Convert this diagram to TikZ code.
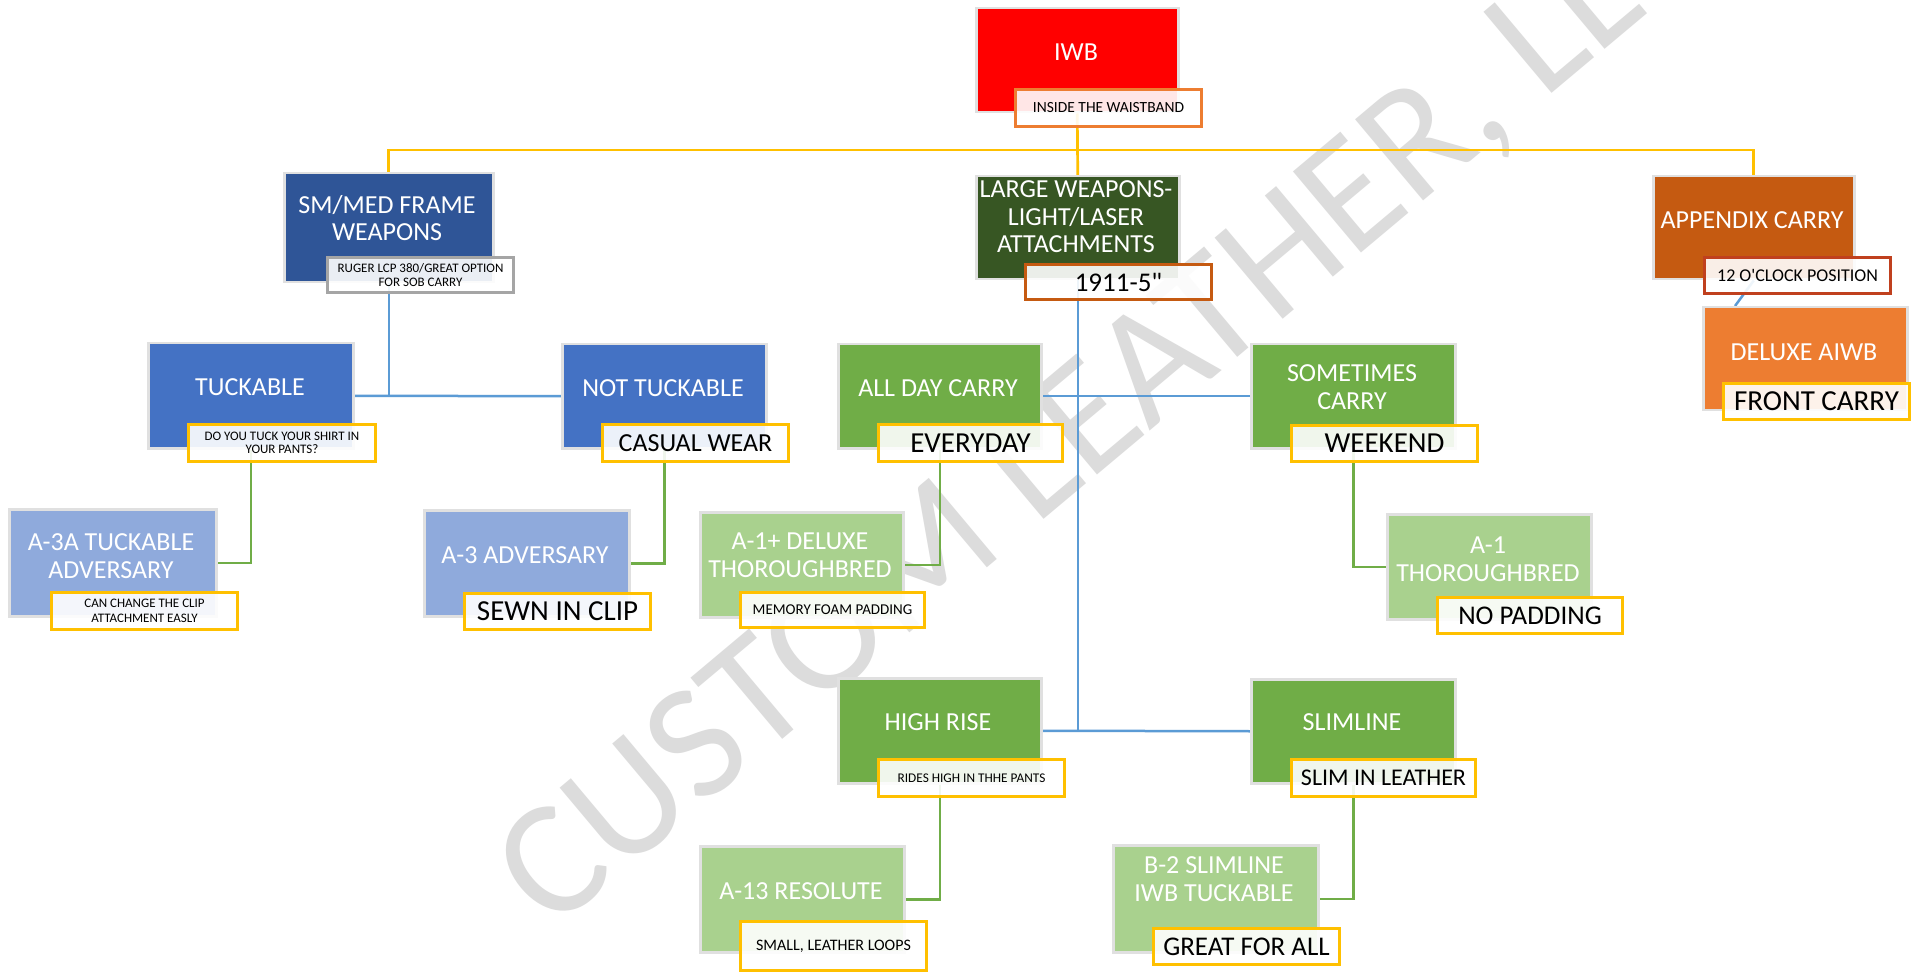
\documentclass[tikz,border=0pt]{standalone}
\usepackage{fontspec}
\setmainfont{Carlito}[Ligatures=TeXOff]
\usetikzlibrary{backgrounds}
\definecolor{ylw}{HTML}{FFC000}
\definecolor{bl}{HTML}{5B9BD5}
\definecolor{gr}{HTML}{70AD47}
\definecolor{cred}{HTML}{FF0000}
\definecolor{cdblue}{HTML}{2F5597}
\definecolor{cdgreen}{HTML}{375623}
\definecolor{cbrown}{HTML}{C55A11}
\definecolor{corange}{HTML}{ED7D31}
\definecolor{cblue}{HTML}{4472C4}
\definecolor{clblue}{HTML}{8FAADC}
\definecolor{cgreen}{HTML}{70AD47}
\definecolor{clgreen}{HTML}{A9D18E}
\definecolor{cgray}{HTML}{A5A5A5}
\definecolor{cdred}{HTML}{C0401E}
\definecolor{wmc}{HTML}{DCDCDC}
\newcommand{\mkbox}[6]{\node[boxs, fill=#6, minimum width={(#4-#2)*1pt}, minimum height={(#5-#3)*1pt}] (#1) at (#2,#3) {};}
\newcommand{\mklab}[8]{\node[labs, draw=#6, font=#7, minimum width={(#4-#2)*1pt}, minimum height={(#5-#3)*1pt}] (#1) at (#2,#3) {#8};}
\tikzset{
  boxs/.style={draw=black!12, line width=2.5pt, anchor=north west, inner sep=0pt},
  labs/.style={line width=3pt, fill=white, fill opacity=0.9, text opacity=1, anchor=north west, inner sep=0pt, align=center, text=black},
  btxt/.style={text=white, align=center, font=\fontsize{26}{27.5}\selectfont, inner sep=0pt},
  ylc/.style={draw=ylw, line width=2.7pt},
  blc/.style={draw=bl, line width=2.5pt},
  grc/.style={draw=gr, line width=2.5pt},
  wmk/.style={text=wmc, font=\fontsize{165}{165}\selectfont, inner sep=0pt}
}
\begin{document}
\begin{tikzpicture}[x=1pt, y=-1pt]
\useasboundingbox (0,0) rectangle (1912,973);
\coordinate (ybus) at (0,150);
\coordinate (apdx) at (1735,306);
% boxes
\mkbox{iwb}{975}{7}{1177}{111}{cred}
\mkbox{sm}{283}{172}{492}{281}{cdblue}
\mkbox{lw}{975}{175}{1178}{278}{cdgreen}
\mkbox{ap}{1652}{175}{1853}{278}{cbrown}
\mkbox{dx}{1702}{306}{1906}{409}{corange}
\mkbox{tk}{147}{342}{352}{447}{cblue}
\mkbox{nt}{561}{343}{765}{447}{cblue}
\mkbox{a3a}{8}{508}{215}{615}{clblue}
\mkbox{a3}{423}{509}{628}{615}{clblue}
\mkbox{ad}{837}{343}{1040}{447}{cgreen}
\mkbox{sc}{1250}{343}{1454}{447}{cgreen}
\mkbox{a1p}{699}{511}{902}{616}{clgreen}
\mkbox{a1}{1386}{513}{1590}{618}{clgreen}
\mkbox{hr}{837}{677}{1040}{782}{cgreen}
\mkbox{sl}{1250}{678}{1454}{782}{cgreen}
\mkbox{a13}{699}{845}{903}{951}{clgreen}
\mkbox{b2}{1112}{844}{1317}{951}{clgreen}
\begin{pgfonlayer}{background}
\fill[white] (0,0) rectangle (1912,973);
\begin{scope}
\clip (0,0) rectangle (1912,973);
\node[wmk, rotate=40, anchor=west] (wmark) at (524,900) {CUSTOM LEATHER, LLC};
\end{scope}
% connectors
\draw[ylc] (iwb.south) -- (lw.north);
\draw[ylc] (sm.north) -- (sm.north |- ybus) -| (ap.north);
\draw[blc] (lw.south) -- (lw.south |- hr.east);
\draw[blc] (ad.east) -- (sc.west);
\draw[blc] (hr.east) -- (sl.west);
\draw[blc] (tk.east) -- (nt.west);
\draw[blc] (sm.south) -- (sm.south |- tk.east);
\draw[blc] (ap.south) -- (apdx);
\draw[grc] (tk.south) |- (a3a.east);
\draw[grc] (nt.south) |- (a3.east);
\draw[grc] (ad.south) |- (a1p.east);
\draw[grc] (sc.south) |- (a1.west);
\draw[grc] (hr.south) |- (a13.east);
\draw[grc] (sl.south) |- (b2.east);
\end{pgfonlayer}
% box texts
\node[btxt] (iwb-t) at (1076,52) {IWB};
\node[btxt] (sm-t) at (387,218) {SM/MED FRAME\\WEAPONS};
\node[btxt] (lw-t) at (1076,217) {LARGE WEAPONS-\\LIGHT/LASER\\ATTACHMENTS};
\node[btxt] (ap-t) at (1752,220) {APPENDIX CARRY};
\node[btxt] (dx-t) at (1804,352) {DELUXE AIWB};
\node[btxt] (tk-t) at (250,387) {TUCKABLE};
\node[btxt] (nt-t) at (663,388) {NOT TUCKABLE};
\node[btxt] (a3a-t) at (111,556) {A-3A TUCKABLE\\ADVERSARY};
\node[btxt] (a3-t) at (525,555) {A-3 ADVERSARY};
\node[btxt] (ad-t) at (938,388) {ALL DAY CARRY};
\node[btxt] (sc-t) at (1352,387) {SOMETIMES\\CARRY};
\node[btxt] (a1p-t) at (800,555) {A-1+ DELUXE\\THOROUGHBRED};
\node[btxt] (a1-t) at (1488,559) {A-1\\THOROUGHBRED};
\node[btxt] (hr-t) at (938,722) {HIGH RISE};
\node[btxt] (sl-t) at (1352,722) {SLIMLINE};
\node[btxt] (a13-t) at (801,891) {A-13 RESOLUTE};
\node[btxt] (b2-t) at (1214,879) {B-2 SLIMLINE\\IWB TUCKABLE};
% labels
\mklab{iwbL}{1014}{88}{1200}{125}{corange}{\fontsize{15.5}{17}\selectfont}{INSIDE THE WAISTBAND}
\mklab{smL}{326}{256}{512}{291}{cgray}{\fontsize{13}{13.5}\selectfont}{RUGER LCP 380/GREAT OPTION\\FOR SOB CARRY}
\mklab{lwL}{1024}{263}{1210}{298}{cbrown}{\fontsize{27}{28}\selectfont}{1911-5"}
\mklab{apL}{1703}{256}{1889}{292}{cdred}{\fontsize{18}{19}\selectfont}{12 O'CLOCK POSITION}
\mklab{dxL}{1722}{382}{1908}{418}{ylw}{\fontsize{29}{30}\selectfont}{FRONT CARRY}
\mklab{tkL}{187}{423}{374}{460}{ylw}{\fontsize{13}{13.5}\selectfont}{DO YOU TUCK YOUR SHIRT IN\\YOUR PANTS?}
\mklab{ntL}{601}{423}{787}{460}{ylw}{\fontsize{26}{28}\selectfont}{CASUAL WEAR}
\mklab{a3aL}{50}{591}{236}{628}{ylw}{\fontsize{13}{14.5}\selectfont}{CAN CHANGE THE CLIP\\ATTACHMENT EASLY}
\mklab{a3L}{463}{592}{649}{628}{ylw}{\fontsize{29}{30}\selectfont}{SEWN IN CLIP}
\mklab{adL}{877}{423}{1061}{460}{ylw}{\fontsize{29}{30}\selectfont}{EVERYDAY}
\mklab{scL}{1290}{424}{1476}{460}{ylw}{\fontsize{29}{30}\selectfont}{WEEKEND}
\mklab{a1pL}{739}{591}{923}{626}{ylw}{\fontsize{15}{16}\selectfont}{MEMORY FOAM PADDING}
\mklab{a1L}{1436}{596}{1621}{632}{ylw}{\fontsize{27}{28}\selectfont}{NO PADDING}
\mklab{hrL}{877}{758}{1063}{795}{ylw}{\fontsize{13.3}{14}\selectfont}{RIDES HIGH IN THHE PANTS}
\mklab{slL}{1290}{758}{1474}{795}{ylw}{\fontsize{24}{26}\selectfont}{SLIM IN LEATHER}
\mklab{a13L}{739}{920}{925}{969}{ylw}{\fontsize{16}{17}\selectfont}{SMALL, LEATHER LOOPS}
\mklab{b2L}{1152}{927}{1338}{963}{ylw}{\fontsize{27}{28}\selectfont}{GREAT FOR ALL}
\end{tikzpicture}
\end{document}
